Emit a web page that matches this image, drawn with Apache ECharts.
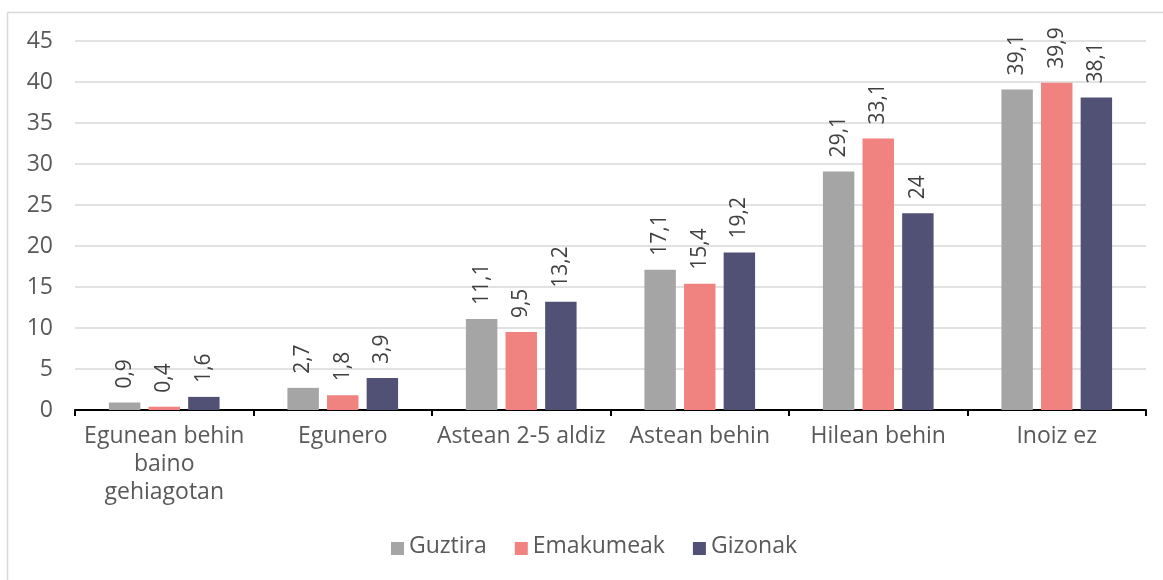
<!DOCTYPE html>
<html>
<head>
<meta charset="utf-8">
<script src="https://cdn.jsdelivr.net/npm/echarts@6/dist/echarts.min.js"></script>
<style>
  html, body { margin: 0; padding: 0; background: #fff; }
  #chart { width: 1163px; height: 580px; }
</style>
</head>
<body>
<div id="chart"></div>
<script>
const categories = ['Egunean behin\nbaino\ngehiagotan', 'Egunero', 'Astean 2-5 aldiz', 'Astean behin', 'Hilean behin', 'Inoiz ez'];
const seriesNames = ['Guztira', 'Emakumeak', 'Gizonak'];
const guztira = [0.9, 2.7, 11.1, 17.1, 29.1, 39.1];
const emakumeak = [0.4, 1.8, 9.5, 15.4, 33.1, 39.9];
const gizonak = [1.6, 3.9, 13.2, 19.2, 24, 38.1];
const colors = ['#A5A5A5', '#F0827F', '#515176'];

const FONT = '"Open Sans", "Noto Sans", sans-serif';
const fmt = v => String(v).replace('.', ',');

// Square legend marker sitting low on the text line (bbox padded at the top)
const LEGEND_ICON = 'path://M0,0M0,4L13,4L13,17L0,17Z';

const chart = echarts.init(document.getElementById('chart'));

function makeSeries(name, data, color) {
  return {
    name: name,
    type: 'bar',
    data: data,
    barGap: '26%',
    barCategoryGap: '38%',
    itemStyle: { color: color },
    label: {
      show: true,
      position: 'top',
      rotate: 90,
      align: 'left',
      verticalAlign: 'middle',
      distance: 14,
      color: '#404040',
      fontFamily: FONT,
      fontSize: 21,
      formatter: p => fmt(p.value)
    }
  };
}

chart.setOption({
  animation: false,
  textStyle: { fontFamily: FONT },
  graphic: [{
    type: 'rect',
    shape: { x: 7.5, y: 12.5, width: 1170, height: 590 },
    style: { fill: 'none', stroke: '#D9D9D9', lineWidth: 1.5 },
    silent: true,
    z: -1
  }],
  grid: { left: 75, right: 17, top: 41, bottom: 170, containLabel: false },
  legend: {
    data: seriesNames,
    top: 530,
    left: 386,
    itemWidth: 13,
    itemHeight: 17,
    itemGap: 28,
    icon: LEGEND_ICON,
    textStyle: { color: '#595959', fontSize: 23, fontFamily: FONT }
  },
  xAxis: {
    type: 'category',
    data: categories,
    axisLine: { lineStyle: { color: '#000', width: 2 } },
    axisTick: { show: true, length: 6, lineStyle: { color: '#000', width: 2 } },
    axisLabel: {
      color: '#595959',
      fontSize: 23,
      fontFamily: FONT,
      lineHeight: 28,
      margin: 12,
      interval: 0
    }
  },
  yAxis: {
    type: 'value',
    min: 0,
    max: 45,
    interval: 5,
    axisLine: { show: false },
    axisTick: { show: false },
    axisLabel: { color: '#595959', fontSize: 23, fontFamily: FONT, margin: 22 },
    splitLine: { lineStyle: { color: '#D9D9D9', width: 1.5 } }
  },
  series: [
    makeSeries(seriesNames[0], guztira, colors[0]),
    makeSeries(seriesNames[1], emakumeak, colors[1]),
    makeSeries(seriesNames[2], gizonak, colors[2])
  ]
});
</script>
</body>
</html>
